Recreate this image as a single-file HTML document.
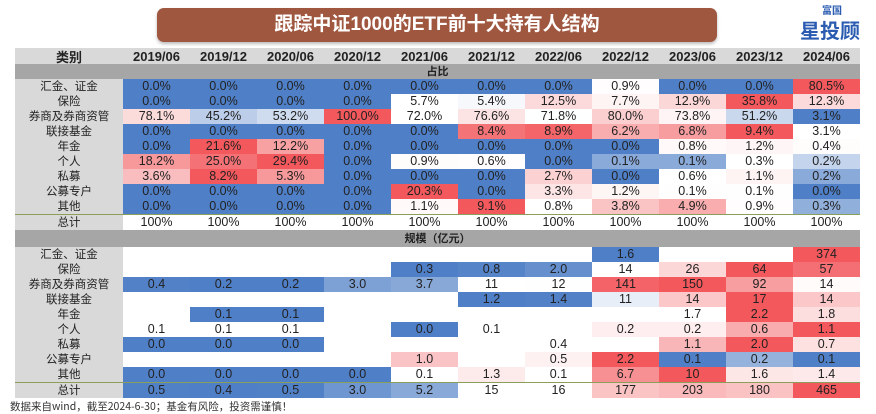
<!DOCTYPE html>
<html><head><meta charset="utf-8">
<style>
body{margin:0;width:876px;height:413px;background:#fff;overflow:hidden;position:relative;font-family:"Liberation Sans Narrow","Liberation Sans","Noto Sans CJK SC",sans-serif;}
#title{position:absolute;left:157px;top:8px;width:560px;height:34px;background:#a0573f;border-radius:7px;color:#fff;font:bold 19px "Liberation Sans","Noto Sans CJK SC",sans-serif;text-align:center;line-height:34px;box-shadow:0 2px 3px #bbb;}
#logo{position:absolute;left:800px;top:4px;color:#2a5bb0;font:bold 20px "Noto Sans CJK SC",sans-serif;}
#logo small{display:block;font-size:10px;margin-left:22px;line-height:11px}
table{position:absolute;left:15px;top:48px;border-collapse:collapse;table-layout:fixed;}
td{height:15px;padding:0;text-align:center;font-size:12.5px;color:#222;line-height:15px;white-space:nowrap;overflow:hidden;}
td.c0{width:108px;background:#d9d9d9;font-family:"Noto Sans CJK SC",sans-serif;font-size:11.5px;}
td.c{width:67px;}
tr.hd td{background:#d9d9d9;font-weight:bold;height:16px;font-size:13px;}
tr.sec td{background:#a6a6a6;height:15px;line-height:15px;font-family:"Noto Sans CJK SC",sans-serif;font-size:11px;font-weight:bold;}
tr.sec2 td{height:17px;}
tr.tot td{border-top:1px solid #8aa05a;}
#foot{position:absolute;left:10px;top:399px;font:10.5px "Noto Sans CJK SC",sans-serif;color:#333;}
</style></head><body>
<div id="title">跟踪中证1000的ETF前十大持有人结构</div>
<div id="logo"><small>富国</small>星投顾</div>
<table id="tbl"></table>
<div id="foot">数据来自wind，截至2024-6-30；基金有风险，投资需谨慎！</div>
<script>
const periods=["2019/06","2019/12","2020/06","2020/12","2021/06","2021/12","2022/06","2022/12","2023/06","2023/12","2024/06"];
const categories=["汇金、证金","保险","券商及券商资管","联接基金","年金","个人","私募","公募专户","其他"];
const shareValues=[
[0,0,0,0,0,0,0,0.9,0,0,80.5],
[0,0,0,0,5.7,5.4,12.5,7.7,12.9,35.8,12.3],
[78.1,45.2,53.2,100,72.0,76.6,71.8,80.0,73.8,51.2,3.1],
[0,0,0,0,0,8.4,8.9,6.2,6.8,9.4,3.1],
[0,21.6,12.2,0,0,0,0,0,0.8,1.2,0.4],
[18.2,25.0,29.4,0,0.9,0.6,0,0.1,0.1,0.3,0.2],
[3.6,8.2,5.3,0,0,0,2.7,0,0.6,1.1,0.2],
[0,0,0,0,20.3,0,3.3,1.2,0.1,0.1,0.0],
[0,0,0,0,1.1,9.1,0.8,3.8,4.9,0.9,0.3]];
const scaleLabels=[
[null,null,null,null,null,null,null,"1.6",null,null,"374"],
[null,null,null,null,"0.3","0.8","2.0","14","26","64","57"],
["0.4","0.2","0.2","3.0","3.7","11","12","141","150","92","14"],
[null,null,null,null,null,"1.2","1.4","11","14","17","14"],
[null,"0.1","0.1",null,null,null,null,null,"1.7","2.2","1.8"],
["0.1","0.1","0.1",null,"0.0","0.1",null,"0.2","0.2","0.6","1.1"],
["0.0","0.0","0.0",null,null,null,"0.4",null,"1.1","2.0","0.7"],
[null,null,null,null,"1.0",null,"0.5","2.2","0.1","0.2","0.1"],
["0.0","0.0","0.0","0.0","0.1","1.3","0.1","6.7","10","1.6","1.4"]];
const scaleTotals=["0.5","0.4","0.5","3.0","5.2","15","16","177","203","180","465"];
const BLUE=[79,127,198],WHITE=[255,255,255],RED=[242,88,92];
function mix(a,b,t){return 'rgb('+a.map((v,i)=>Math.round(v+(b[i]-v)*t)).join(',')+')';}
function colorFn(vals){
  const v=vals.filter(x=>x!=null).slice().sort((a,b)=>a-b);
  const mn=v[0],mx=v[v.length-1],n=v.length;
  const md=n%2?v[(n-1)/2]:(v[n/2-1]+v[n/2])/2;
  return x=>{if(x==null)return '#fff';
    if(x<=md){return md===mn?mix(BLUE,WHITE,x>mn?1:0):mix(BLUE,WHITE,(x-mn)/(md-mn));}
    return mix(WHITE,RED,(x-md)/(mx-md||1));};
}
const tbl=document.getElementById('tbl');
function row(cls){const tr=document.createElement('tr');if(cls)tr.className=cls;tbl.appendChild(tr);return tr;}
function cell(tr,txt,cls,bg,name){const td=document.createElement('td');td.className=cls;td.textContent=txt;if(bg)td.style.background=bg;


tr.appendChild(td);return td;}
let tr=row('hd');cell(tr,'类别','c0',null,'header-category');
periods.forEach(p=>cell(tr,p,'c',null,'header-'+p));
tr=row('sec');let s=cell(tr,'占比','c0',null,'section-share');s.colSpan=12;
shareValues.forEach((r,i)=>{tr=row();cell(tr,categories[i],'c0',null,'row-label');
 const f=colorFn(r);r.forEach((v,j)=>cell(tr,v.toFixed(1)+'%','c',f(v),'share-cell'));});
tr=row('tot');cell(tr,'总计','c0',null,'row-label-total');periods.forEach(()=>cell(tr,'100%','c','#fff','share-total-cell'));
tr=row('sec sec2');s=cell(tr,'规模（亿元）','c0',null,'section-scale');s.colSpan=12;
scaleLabels.forEach((r,i)=>{tr=row();cell(tr,categories[i],'c0',null,'row-label');
 const nums=r.map(x=>x==null?null:parseFloat(x));const f=colorFn(nums);
 r.forEach((v,j)=>cell(tr,v==null?'':v,'c',f(nums[j]),'scale-cell'));});
tr=row('tot');cell(tr,'总计','c0',null,'row-label-total');
{const nums=scaleTotals.map(parseFloat);const f=colorFn(nums);scaleTotals.forEach((v,j)=>cell(tr,v,'c',f(nums[j]),'scale-total-cell'));}
</script>
</body></html>
